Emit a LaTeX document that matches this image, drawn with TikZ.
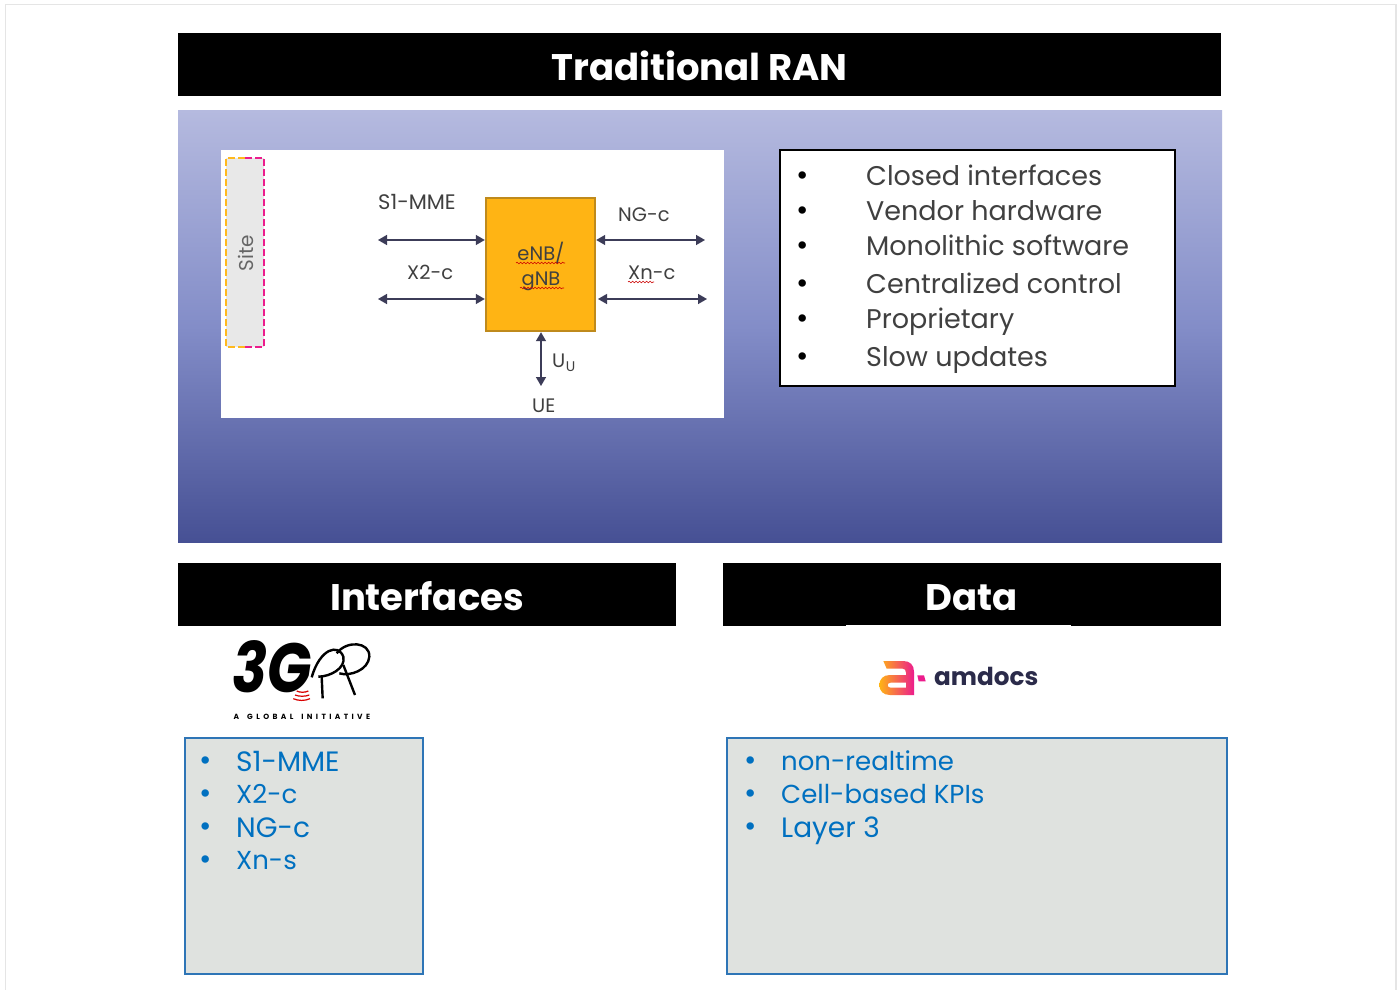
\documentclass[tikz,border=0pt]{standalone}
\usepackage{fontspec}
\setmainfont{Poppins}
\usetikzlibrary{arrows.meta}
\usetikzlibrary{decorations.pathmorphing}
\definecolor{barblue}{HTML}{0070C0}
\definecolor{boxblue}{HTML}{2E75B6}
\definecolor{boxgrey}{HTML}{DFE2DF}
\definecolor{linkgrey}{HTML}{3C3C58}
\definecolor{labelgrey}{HTML}{404040}
\definecolor{siteorange}{HTML}{FFB91E}
\definecolor{sitepink}{HTML}{EC1C8C}
\definecolor{bluetop}{HTML}{B5BADF}
\definecolor{bluemid}{HTML}{838DC8}
\definecolor{bluebottom}{HTML}{465094}
\definecolor{enbfill}{HTML}{FFB414}
\definecolor{enbline}{HTML}{BF8A1C}
\definecolor{amdorange}{HTML}{FFB414}
\definecolor{amdpink}{HTML}{EC1C8C}
\definecolor{amdtext}{HTML}{2B2B4A}
\tikzset{
  headbar/.style={fill=black,inner sep=0pt,text=white,text height=32pt,text depth=0pt,font=\fontsize{37}{40}\selectfont\bfseries},
  bluelist/.style={anchor=base west,inner sep=0pt,text=barblue,font=\fontsize{26}{32}\selectfont},
  bluewide/.style={bluelist,font=\fontsize{28}{32}\selectfont},
  bluedot/.style={anchor=center,inner sep=0pt,text=barblue,font=\fontsize{30}{34}\selectfont},
  blackitem/.style={anchor=base west,inner sep=0pt,text=labelgrey,font=\fontsize{27}{34}\selectfont},
  blackdot/.style={anchor=center,inner sep=0pt,text=black,font=\fontsize{30}{34}\selectfont},
  linklabel/.style={anchor=base,inner sep=0pt,text=labelgrey,font=\fontsize{19.5}{24}\selectfont},
  linkarrow/.style={draw=linkgrey,line width=1.4pt,{Triangle[length=9pt,width=10pt]}-{Triangle[length=9pt,width=10pt]}},
  spellmark/.style={draw=red!80!black,line width=0.6pt,decorate,decoration={snake,amplitude=0.8pt,segment length=3.5pt}},
  listbox/.style={draw=boxblue,fill=boxgrey,line width=2pt},
}
\begin{document}
\begin{tikzpicture}[x=1pt,y=-1pt]
\useasboundingbox (0,0) rectangle (1398,990);
\fill[white] (0,0) rectangle (1398,990);
\draw[black!10,line width=1.2pt] (5.5,990) -- (5.5,4.5) -- (1396,4.5) -- (1396,990);
%
\node[headbar,minimum width=1043pt,minimum height=63pt] (title) at (699.5,64.5) {Traditional RAN};
\shade[top color=bluetop,bottom color=bluebottom,middle color=bluemid] (178,110) rectangle (1222,542.6);
\node[headbar,minimum width=498pt,minimum height=63pt] (interfaces) at (427,594.5) {Interfaces};
\node[headbar,minimum width=498pt,minimum height=63pt] (data) at (972,594.5) {Data};
\draw[white,line width=1pt] (846,625.5) -- (1071,625.5);
%
\fill[white] (221,150) rectangle (724,418);
\fill[black!9] (226,158) rectangle (264,347);
\draw[siteorange,line width=2.4pt,dash pattern=on 7pt off 3pt] (245,158) -- (226,158) -- (226,347) -- (245,347);
\draw[sitepink,line width=2.4pt,dash pattern=on 7pt off 3pt] (245,158) -- (264,158) -- (264,347) -- (245,347);
\node[rotate=90,inner sep=0pt,text=black!60,font=\fontsize{20}{24}\selectfont] (site) at (246,253) {Site};
%
\node[draw=enbline,fill=enbfill,line width=2.4pt,minimum width=109pt,minimum height=133pt,inner sep=0pt] (enb) at (540.5,264.5) {};
\node[linklabel] (enbtext) at (541,260) {eNB/};
\node[linklabel] (gnbtext) at (541,285) {gNB};
\node[linklabel,anchor=base west,font=\fontsize{21}{24}\selectfont] (s1label) at (378,209) {S1-MME};
\node[linklabel,anchor=base west] (nglabel) at (618,221) {NG-c};
\node[linklabel,anchor=base west] (x2label) at (407,279) {X2-c};
\node[linklabel,anchor=base west] (xnlabel) at (628,279) {Xn-c};
\node[linklabel,anchor=base west] (uulabel) at (552,367) {U\kern0.5pt\raisebox{-4pt}{\fontsize{14}{16}\selectfont U}};
\node[linklabel,anchor=base west] (uelabel) at (532,412) {UE};
%
\coordinate (s1end) at (378,240);
\coordinate (x2end) at (378,299);
\coordinate (ngend) at (705,240);
\coordinate (xnend) at (707,299);
\coordinate (xnstart) at (598,299);
\coordinate (ueend) at (541,386);
\draw[linkarrow] (s1end) -- (enb.west |- s1end);
\draw[linkarrow] (x2end) -- (enb.west |- x2end);
\draw[linkarrow] (enb.east |- ngend) -- (ngend);
\draw[linkarrow] (xnstart) -- (xnend);
\draw[linkarrow] (enb.south -| ueend) -- (ueend);
%
\coordinate (enbmarka) at (516,263);
\coordinate (enbmarkb) at (565,263);
\coordinate (gnbmarka) at (520,288);
\coordinate (gnbmarkb) at (564,288);
\coordinate (xnmarka) at (628,282);
\coordinate (xnmarkb) at (654,282);
\path[spellmark] (enbmarka) -- (enbmarkb);
\path[spellmark] (gnbmarka) -- (gnbmarkb);
\path[spellmark] (xnmarka) -- (xnmarkb);
%
\draw[black,fill=white,line width=2pt] (780,149.5) rectangle (1175,385.5);
\node[blackdot] (doti) at (803,179) {•};
\node[blackdot] (dotii) at (803,214) {•};
\node[blackdot] (dotiii) at (803,249) {•};
\node[blackdot] (dotiv) at (803,287) {•};
\node[blackdot] (dotv) at (803,322) {•};
\node[blackdot] (dotvi) at (803,360) {•};
\node[blackitem] (closed) at (866,185) {Closed interfaces};
\node[blackitem] (vendor) at (866,220) {Vendor hardware};
\node[blackitem] (mono) at (866,255) {Monolithic software};
\node[blackitem] (central) at (866,293) {Centralized control};
\node[blackitem] (propr) at (866,328) {Proprietary};
\node[blackitem] (slow) at (866,366) {Slow updates};
%
\draw[listbox] (184.5,738) rectangle (423,973.5);
\draw[listbox] (727,738) rectangle (1227,973.5);
\node[bluedot] (ifdoti) at (206,764) {•};
\node[bluedot] (ifdotii) at (206,797) {•};
\node[bluedot] (ifdotiii) at (206,830) {•};
\node[bluedot] (ifdotiv) at (206,863) {•};
\node[bluewide] (s1item) at (236,771) {S1-MME};
\node[bluelist] (x2item) at (236,803) {X2-c};
\node[bluewide] (ngitem) at (236,837) {NG-c};
\node[bluelist] (xnitem) at (236,869) {Xn-s};
\node[bluedot] (datadoti) at (751,764) {•};
\node[bluedot] (datadotii) at (751,797) {•};
\node[bluedot] (datadotiii) at (751,830) {•};
\node[bluelist] (nonrt) at (781,770) {non-realtime};
\node[bluelist] (kpis) at (781,803) {Cell-based KPIs};
\node[bluewide] (layer) at (781,837) {Layer 3};
%
% 3GPP logo
\node[anchor=base west,inner sep=0pt,yscale=1.2,font=\fontsize{58}{60}\selectfont\bfseries\itshape] (threeg) at (232,692) {3G};
\begin{scope}[shift={(180,620)},scale=1/3]
\draw[black,line width=2.4pt] (425,170) -- (428,235);
\draw[black,line width=2.4pt] (395,172) .. controls (420,85) and (475,70) .. (490,110) .. controls (498,145) and (450,170) .. (415,170);
\draw[black,line width=2.4pt] (470,100) .. controls (500,60) and (570,65) .. (568,110) .. controls (565,150) and (510,170) .. (478,160);
\draw[black,line width=2.4pt] (490,135) -- (525,225);
\draw[red!85!black,line width=1.2pt] (350,213) .. controls (360,218) and (375,218) .. (385,213);
\draw[red!85!black,line width=1.2pt] (345,225) .. controls (358,230) and (375,230) .. (388,225);
\draw[red!85!black,line width=1.2pt] (340,236) .. controls (355,243) and (375,243) .. (390,236);
\end{scope}
\node[anchor=base west,inner sep=0pt,font=\fontsize{7.5}{9}\selectfont\bfseries\addfontfeature{LetterSpace=45}] (globaltext) at (233.5,719) {A\kern8pt GLOBAL\kern8pt INITIATIVE};
%
% amdocs logo
\begin{scope}[shift={(840,610)},scale=1/3]
\shade[left color=amdorange,right color=amdpink,even odd rule]
  (130,153) -- (190,153) .. controls (210,153) and (222,165) .. (222,185) -- (222,255) -- (150,255)
  .. controls (130,255) and (118,243) .. (118,225) .. controls (118,207) and (130,195) .. (150,195)
  -- (198,195) -- (198,188) .. controls (198,180) and (194,176) .. (188,176) -- (140,176) -- cycle
  (152,218) -- (198,218) -- (198,233) -- (152,233) .. controls (140,233) and (140,218) .. (152,218) -- cycle;
\fill[amdpink] (232,196) -- (252,196) -- (257,214) -- (236,214) -- cycle;
\end{scope}
\node[anchor=base west,inner sep=0pt,text=amdtext,font=\fontsize{24.7}{28}\selectfont\bfseries] (amdocs) at (934,685) {amdocs};
%
\end{tikzpicture}
\end{document}
